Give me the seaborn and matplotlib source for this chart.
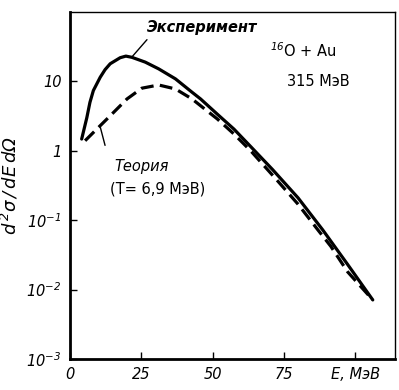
import numpy as np
import pandas as pd
import matplotlib
matplotlib.use("Agg")
import matplotlib.pyplot as plt
import seaborn as sns

# Experiment (solid)
exp_E = [4.1, 5.9, 7.0, 8.2, 10.6, 12.3, 14.1, 17.6, 19.6, 21.7, 26.4, 31.1, 37, 42.8, 45.8, 51.6, 57.5, 63.4, 71, 80, 88.6, 97.4, 106.2]
exp_Y = [1.48, 3.0, 5.0, 7.4, 11.5, 14.8, 18, 22, 23.2, 22.3, 19, 15.2, 10.9, 7.0, 5.6, 3.4, 2.06, 1.15, 0.54, 0.21, 0.073, 0.023, 0.0071]
# Theory (dashed)
th_E = [5.3, 9.4, 14.1, 20, 25.2, 31.1, 37, 42.8, 48.7, 51.6, 57.5, 63.4, 72.8, 80, 86.9, 91.5, 97.4, 106.2]
th_Y = [1.4, 2.06, 3.2, 5.6, 8.0, 8.9, 7.8, 5.6, 3.6, 2.9, 1.75, 1.0, 0.37, 0.17, 0.073, 0.042, 0.018, 0.0071]

x_ticks = [0, 25, 50, 75, 100]
x_tick_labels = ["0", "25", "50", "75", "E, МэВ"]
y_ticks = [1e-3, 1e-2, 1e-1, 1, 10]
y_tick_labels = [r"$10^{-3}$", r"$10^{-2}$", r"$10^{-1}$", "1", "10"]

df = pd.concat([
    pd.DataFrame({"E": exp_E, "Y": exp_Y, "series": "Эксперимент"}),
    pd.DataFrame({"E": th_E, "Y": th_Y, "series": "Теория"}),
])

sns.set_style("white")
plt.rcParams["font.family"] = ["DejaVu Sans"]
plt.rcParams["mathtext.fontset"] = "custom"
plt.rcParams["mathtext.rm"] = "DejaVu Sans:italic"
plt.rcParams["mathtext.it"] = "DejaVu Sans:italic"
plt.rcParams["text.color"] = "black"

fig = plt.figure(figsize=(3.99, 3.90), dpi=100)
ax = fig.add_axes([0.1754, 0.0795, 0.8146, 0.8895])

sns.lineplot(data=df, x="E", y="Y", hue="series", style="series",
             palette={"Эксперимент": "black", "Теория": "black"},
             dashes={"Эксперимент": "", "Теория": (4, 2)},
             linewidth=2.3, legend=False, ax=ax, sort=False)
for ln in ax.get_lines():
    ln.set_solid_joinstyle("round")
    ln.set_dash_joinstyle("round")

ax.set_yscale("log")
ax.set_xlim(0, 114)
ax.set_ylim(1e-3, 100)
ax.set_xticks(x_ticks)
ax.set_xticklabels(x_tick_labels, fontsize=10.5, style="italic", color="black")
ax.set_yticks(y_ticks)
ax.set_yticklabels(y_tick_labels, fontsize=10.5, style="italic", color="black")
ax.yaxis.set_minor_locator(matplotlib.ticker.NullLocator())
ax.tick_params(direction="in", length=5, width=1, colors="black", pad=6,
               bottom=True, left=True)
ax.set_xlabel("")
ax.set_ylabel(r"$d^{\,2}\sigma\,/\,dE\,d\Omega$", fontsize=13, labelpad=4,
              color="black")

for s in ["left", "bottom"]:
    ax.spines[s].set_linewidth(2)
    ax.spines[s].set_color("black")
for s in ["top", "right"]:
    ax.spines[s].set_linewidth(1)
    ax.spines[s].set_color("black")

# annotations
ax.text(27, 60, "Эксперимент", fontsize=10.5, style="italic", weight="bold",
        ha="left", va="center")
ax.plot([21.7, 27], [22.5, 40], color="black", lw=1)
ax.text(70, 28, r"$^{16}$O + Au", fontsize=10.5, ha="left", va="center")
ax.text(76, 10, "315 МэВ", fontsize=10.5, ha="left", va="center")
ax.text(15.5, 0.6, "Теория", fontsize=10.5, style="italic", ha="left", va="center")
ax.text(14, 0.28, "(T= 6,9 МэВ)", fontsize=10.5, ha="left", va="center")
ax.plot([10.5, 12.3], [2.3, 1.2], color="black", lw=1)

fig.savefig("out.png", dpi=100)
